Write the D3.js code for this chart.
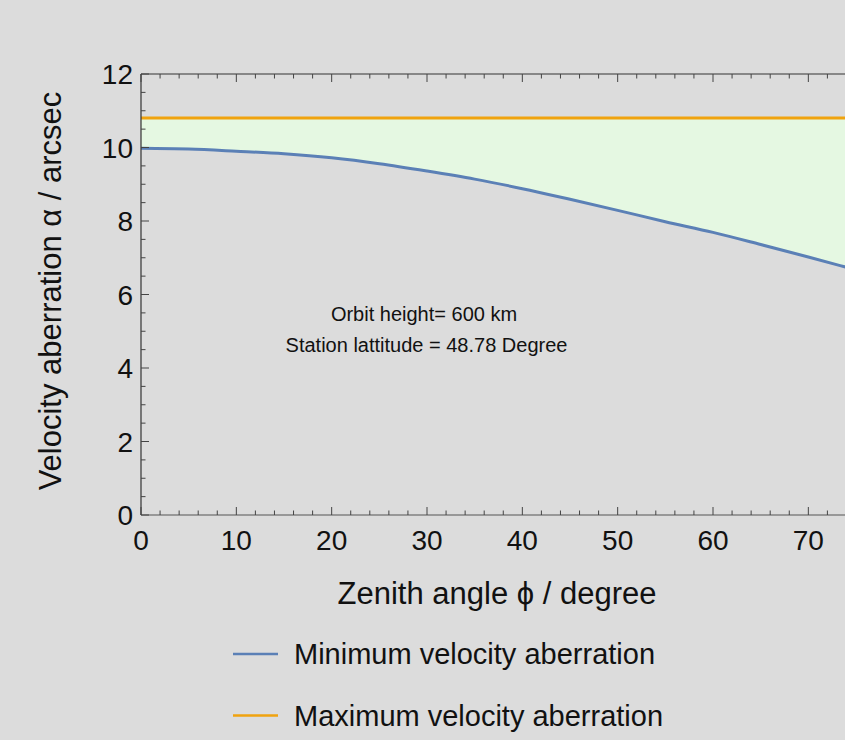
<!DOCTYPE html>
<html>
<head>
<meta charset="utf-8">
<script src="https://cdn.jsdelivr.net/npm/d3@7"></script>
<style>
  html, body { margin: 0; padding: 0; background: #dcdcdc; overflow: hidden; }
  svg { display: block; font-family: "Liberation Sans", Arial, Helvetica, sans-serif; }
</style>
</head>
<body>
<svg id="chart" width="845" height="740"></svg>
<script>
// Data
const zenith = [0, 5, 10, 15, 20, 25, 30, 35, 40, 45, 50, 55, 60, 65, 70, 75, 80];
const minAberration = [9.98, 9.96, 9.90, 9.83, 9.72, 9.56, 9.36, 9.14, 8.88, 8.59, 8.29, 7.98, 7.69, 7.36, 7.02, 6.67, 6.32];
const maxAberration = 10.8;
const xTicks = [0, 10, 20, 30, 40, 50, 60, 70];
const yTicks = [0, 2, 4, 6, 8, 10, 12];
const annotation = ["Orbit height= 600 km", "Station lattitude = 48.78 Degree"];
const legendLabels = ["Minimum velocity aberration", "Maximum velocity aberration"];
const colors = { min: "#5b80b6", max: "#f0a30f", fill: "#e5f8e2", bg: "#dcdcdc" };

(function () {
const svg = d3.select("#chart");
const pL = 141, pR = 856, pT = 74, pB = 515;

const x = d3.scaleLinear().domain([0, 75]).range([pL, pR]);
const y = d3.scaleLinear().domain([0, 12]).range([pB, pT]);

svg.append("rect").attr("width", 845).attr("height", 740).attr("fill", colors.bg);

const rows = zenith.map((z, i) => ({ z, lo: minAberration[i], hi: maxAberration }));

svg.append("clipPath").attr("id", "plotclip")
  .append("rect").attr("x", pL).attr("y", pT).attr("width", pR - pL).attr("height", pB - pT);

const g = svg.append("g").attr("clip-path", "url(#plotclip)");

g.append("path").datum(rows)
  .attr("fill", colors.fill)
  .attr("d", d3.area().x(d => x(d.z)).y0(d => y(d.lo)).y1(d => y(d.hi)).curve(d3.curveMonotoneX));

g.append("path").datum(rows)
  .attr("fill", "none").attr("stroke", colors.min).attr("stroke-width", 3)
  .attr("d", d3.line().x(d => x(d.z)).y(d => y(d.lo)).curve(d3.curveMonotoneX));

g.append("path").datum(rows)
  .attr("fill", "none").attr("stroke", colors.max).attr("stroke-width", 3)
  .attr("d", d3.line().x(d => x(d.z)).y(d => y(d.hi)));

// frame
const frameColor = "#444";
svg.append("line").attr("x1", pL).attr("x2", pR).attr("y1", pB).attr("y2", pB).attr("stroke", "#555").attr("stroke-width", 1.2);
svg.append("line").attr("x1", pL).attr("x2", pR).attr("y1", pT).attr("y2", pT).attr("stroke", "#333").attr("stroke-width", 1.2);
svg.append("line").attr("x1", pL).attr("x2", pL).attr("y1", pT).attr("y2", pB).attr("stroke", "#333").attr("stroke-width", 1.2);
svg.append("line").attr("x1", pR).attr("x2", pR).attr("y1", pT).attr("y2", pB).attr("stroke", "#333").attr("stroke-width", 1.2);

// ticks (inward)
const xMinor = d3.range(0, 76, 2).filter(v => v % 10 !== 0);
const yMinor = d3.range(0, 12.01, 0.5).filter(v => v % 2 !== 0);

const tickG = svg.append("g").attr("stroke", frameColor).attr("stroke-width", 1);
xTicks.forEach(v => {
  tickG.append("line").attr("x1", x(v)).attr("x2", x(v)).attr("y1", pB).attr("y2", pB - 8);
  tickG.append("line").attr("x1", x(v)).attr("x2", x(v)).attr("y1", pT).attr("y2", pT + 8);
});
xMinor.forEach(v => {
  tickG.append("line").attr("x1", x(v)).attr("x2", x(v)).attr("y1", pB).attr("y2", pB - 4.5);
  tickG.append("line").attr("x1", x(v)).attr("x2", x(v)).attr("y1", pT).attr("y2", pT + 4.5);
});
yTicks.forEach(v => {
  tickG.append("line").attr("x1", pL).attr("x2", pL + 8).attr("y1", y(v)).attr("y2", y(v));
});
yMinor.forEach(v => {
  tickG.append("line").attr("x1", pL).attr("x2", pL + 4.5).attr("y1", y(v)).attr("y2", y(v));
});

// tick labels
svg.append("g").selectAll("text").data(xTicks).join("text")
  .attr("x", d => x(d)).attr("y", 550)
  .attr("text-anchor", "middle").attr("font-size", 28).attr("fill", "#111")
  .text(d => d);

svg.append("g").selectAll("text").data(yTicks).join("text")
  .attr("x", 133).attr("y", d => y(d) + 10)
  .attr("text-anchor", "end").attr("font-size", 28).attr("fill", "#111")
  .text(d => d);

// axis titles
svg.append("text").attr("x", 497).attr("y", 604)
  .attr("text-anchor", "middle").attr("font-size", 31).attr("fill", "#111")
  .text("Zenith angle ϕ / degree");

svg.append("text").attr("transform", "translate(61,291) rotate(-90)")
  .attr("text-anchor", "middle").attr("font-size", 31).attr("fill", "#111")
  .text("Velocity aberration α / arcsec");

// annotation
svg.append("g").selectAll("text").data(annotation).join("text")
  .attr("x", (d, i) => 424 + i * 2.5).attr("y", (d, i) => 321 + i * 31)
  .attr("text-anchor", "middle").attr("font-size", 20).attr("fill", "#111")
  .text(d => d);

// legend
const legendColors = [colors.min, colors.max];
const lg = svg.append("g");
legendLabels.forEach((lab, i) => {
  const ly = 654 + i * 61.5;
  lg.append("line").attr("x1", 233).attr("x2", 278).attr("y1", ly).attr("y2", ly)
    .attr("stroke", legendColors[i]).attr("stroke-width", 2.5);
  lg.append("text").attr("x", 294).attr("y", ly + 10)
    .attr("font-size", 29).attr("fill", "#111").text(lab);
});
})();
</script>
</body>
</html>
